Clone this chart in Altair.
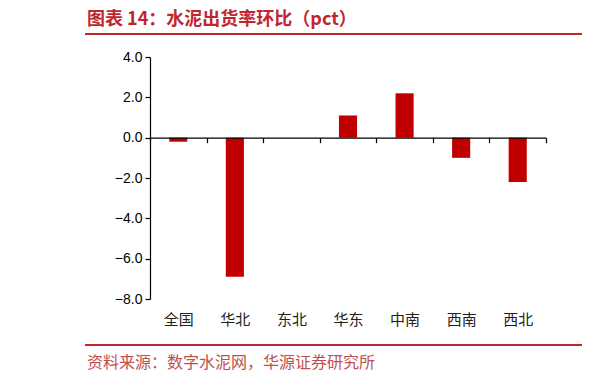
import altair as alt
import pandas as pd

regions = ["全国", "华北", "东北", "华东", "中南", "西南", "西北"]
values = [-0.2, -6.9, 0.0, 1.1, 2.2, -1.0, -2.2]
y_ticks = [-8, -6, -4, -2, 0, 2, 4]
title_text = "图表 14：水泥出货率环比（pct）"
source_text = "资料来源：数字水泥网，华源证券研究所"

W, H = 396, 242
ZERO = H * 4 / 12
RED = "#C0272D"

df = pd.DataFrame({"region": regions, "value": values})

bars = alt.Chart(df).mark_bar(color="#C00000", width={"band": 0.32}).encode(
    x=alt.X("region:N", sort=regions, title=None,
            scale=alt.Scale(paddingInner=0, paddingOuter=0),
            axis=alt.Axis(offset=-(H - ZERO), domainColor="black", domainWidth=1.2,
                          tickColor="black", tickSize=5, tickWidth=1.2, tickBand="extent",
                          labelAngle=0, labelPadding=H - ZERO + 8, labelFontSize=15,
                          labelColor="#222", labelFont="Noto Sans CJK SC", zindex=1)),
    y=alt.Y("value:Q", title=None,
            scale=alt.Scale(domain=[-8, 4], nice=False, zero=False),
            axis=alt.Axis(values=y_ticks, format=".1f", grid=False, domainColor="black",
                          domainWidth=1.2, tickColor="black", tickSize=5, tickWidth=1.2,
                          labelFontSize=14, labelColor="black", labelFont="Liberation Sans",
                          labelPadding=3)),
)

one = alt.Data(values=[{}])

title = alt.Chart(one).mark_text(
    text=title_text, align="left", baseline="middle", font="Noto Sans CJK SC",
    fontSize=18, fontWeight="bold", color=RED
).encode(x=alt.value(-63), y=alt.value(-37))

source = alt.Chart(one).mark_text(
    text=source_text, align="left", baseline="middle", font="Noto Sans CJK SC",
    fontSize=16, color="#C0504D"
).encode(x=alt.value(-63), y=alt.value(306))

def hline(x1, x2, y, w=2):
    return alt.Chart(one).mark_rule(color=RED, strokeWidth=w).encode(
        x=alt.value(x1), x2=alt.value(x2), y=alt.value(y))

decor = [hline(-65, 432, -23), hline(459, 470, -23), hline(-65, 432, 288), hline(459, 470, 288),
         alt.Chart(one).mark_rule(color=RED, strokeWidth=2).encode(
             x=alt.value(463), y=alt.value(-45), y2=alt.value(-31))]

chart = alt.layer(bars, title, source, *decor).properties(
    width=W, height=H,
    padding={"left": 142, "top": 49, "right": 60, "bottom": 77},
    autosize="none",
    background="white",
).configure_view(stroke="transparent", strokeWidth=0)

chart.save("out.html", embed_options={"renderer": "svg", "actions": False})
